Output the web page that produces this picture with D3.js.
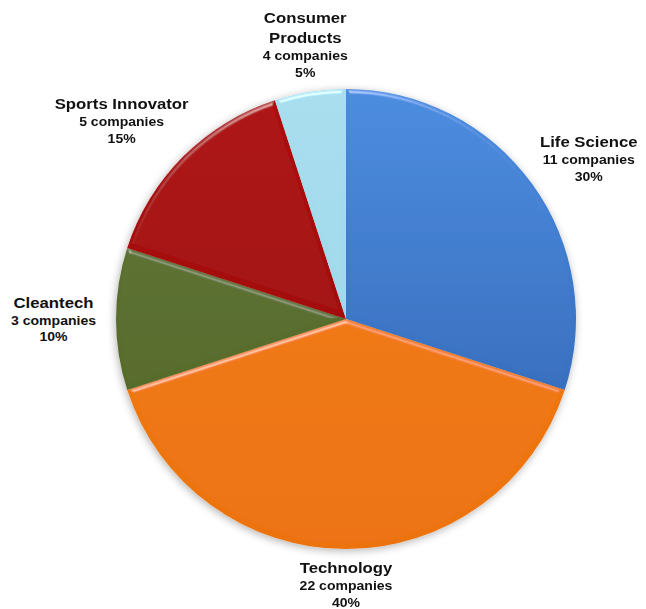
<!DOCTYPE html>
<html>
<head>
<meta charset="utf-8">
<script src="https://cdn.jsdelivr.net/npm/d3@7"></script>
<style>
  html, body { margin: 0; padding: 0; background: #ffffff; }
  svg { display: block; }
  text { font-family: "Liberation Sans", Arial, sans-serif; font-weight: bold; fill: #111; }
</style>
</head>
<body>
<svg id="chart" width="646" height="609"></svg>
<script>
// Portfolio breakdown by sector, clockwise from 12 o'clock
const categories = ["Life Science", "Technology", "Cleantech", "Sports Innovator", "Consumer Products"];
const companies = [11, 22, 3, 5, 4];
const shares = [30, 40, 10, 15, 5];
const colorTop = ["#4a8ce0", "#f47f14", "#5e7331", "#ad0a0a", "#a8deee"];
const colorBottom = ["#2f60ad", "#ec720e", "#546829", "#9a0606", "#9ad4e6"];

const width = 646, height = 609;
const cx = 346, cy = 319, radius = 230;

const svg = d3.select("#chart");
const defs = svg.append("defs");

// soft bevel along slice edges
const bevel = defs.append("filter").attr("id", "bevel")
  .attr("x", "-10%").attr("y", "-10%").attr("width", "120%").attr("height", "120%");
bevel.append("feGaussianBlur").attr("in", "SourceAlpha").attr("stdDeviation", 2).attr("result", "blur");
const spec = bevel.append("feSpecularLighting").attr("in", "blur")
  .attr("surfaceScale", 4).attr("specularConstant", 0.8).attr("specularExponent", 25)
  .attr("lighting-color", "#ffffff").attr("result", "spec");
spec.append("feDistantLight").attr("azimuth", 260).attr("elevation", 22);
bevel.append("feComposite").attr("in", "spec").attr("in2", "SourceAlpha").attr("operator", "in").attr("result", "specOut");
bevel.append("feComposite").attr("in", "SourceGraphic").attr("in2", "specOut")
  .attr("operator", "arithmetic").attr("k1", 0).attr("k2", 1).attr("k3", 0.5).attr("k4", 0);

// faint shadow around the pie
const shadow = defs.append("filter").attr("id", "shadow")
  .attr("x", "-10%").attr("y", "-10%").attr("width", "120%").attr("height", "120%");
shadow.append("feGaussianBlur").attr("in", "SourceAlpha").attr("stdDeviation", 4).attr("result", "b");
shadow.append("feOffset").attr("in", "b").attr("dx", -1).attr("dy", 2).attr("result", "o");
shadow.append("feComponentTransfer").attr("in", "o").attr("result", "s")
  .append("feFuncA").attr("type", "linear").attr("slope", 0.3);
const merge = shadow.append("feMerge");
merge.append("feMergeNode").attr("in", "s");
merge.append("feMergeNode").attr("in", "SourceGraphic");

categories.forEach((c, i) => {
  const g = defs.append("linearGradient").attr("id", "grad" + i)
    .attr("gradientUnits", "userSpaceOnUse")
    .attr("x1", 0).attr("y1", -radius).attr("x2", 0).attr("y2", radius);
  g.append("stop").attr("offset", "0%").attr("stop-color", colorTop[i]);
  g.append("stop").attr("offset", "100%").attr("stop-color", colorBottom[i]);
});

const data = categories.map((c, i) => ({ name: c, companies: companies[i], share: shares[i], i }));

const pie = d3.pie().sort(null).value(d => d.share);
const arc = d3.arc().innerRadius(0).outerRadius(radius);
const arcs = pie(data);

const g = svg.append("g").attr("transform", `translate(${cx},${cy})`);
const slices = g.append("g").attr("filter", "url(#shadow)");
slices.selectAll("path")
  .data(arcs)
  .join("path")
  .attr("d", arc)
  .attr("fill", d => `url(#grad${d.data.i})`)
  .attr("filter", "url(#bevel)");

// labels sit just outside the rim, pushed outward by half their size,
// with a few hand nudges to keep them clear of one another
const gapX = 20, gapY = 13, stretch = 1.08;
const nudge = { "Life Science": [1, -3], "Technology": [0, -3], "Sports Innovator": [0, -9], "Consumer Products": [5, 0] };
const labels = g.append("g");
arcs.forEach(a => {
  const mid = (a.startAngle + a.endAngle) / 2;
  const lines = a.data.name === "Consumer Products"
    ? [["Consumer", 15.5], ["Products", 15.5]]
    : [[a.data.name, 15.5]];
  lines.push([`${a.data.companies} companies`, 13]);
  lines.push([`${a.data.share}%`, 13]);

  const outer = labels.append("g");
  const t = outer.append("text").attr("text-anchor", "middle")
    .attr("transform", `scale(${stretch},1)`);
  let y = 0;
  lines.forEach(([txt, size], k) => {
    y += k === 0 ? 0 : (size > 14 ? 20.5 : 16.7);
    t.append("tspan").attr("x", 0).attr("y", y).attr("font-size", size).text(txt);
  });
  const bb = t.node().getBBox();
  const w = bb.width * stretch, h = bb.height;
  const [nx, ny] = nudge[a.data.name] || [0, 0];
  const ax = (radius + gapX) * Math.sin(mid);
  const ay = -(radius + gapY) * Math.cos(mid);
  const bx = ax + (w / 2) * Math.sin(mid) + nx;
  const by = ay - (h / 2) * Math.cos(mid) + ny;
  outer.attr("transform", `translate(${bx},${by - (bb.y + h / 2)})`);
});
</script>
</body>
</html>
